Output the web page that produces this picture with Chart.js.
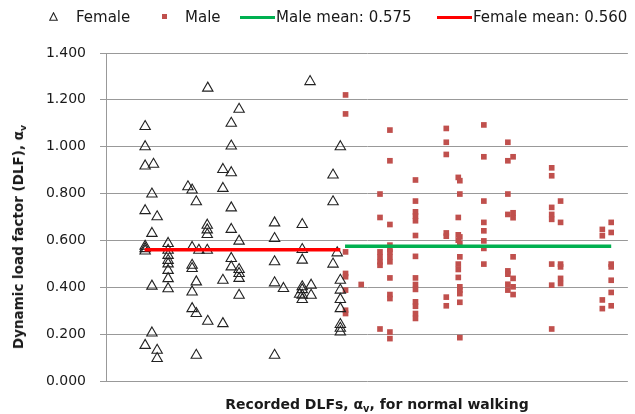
<!DOCTYPE html>
<html>
<head>
<meta charset="utf-8">
<script src="https://cdn.jsdelivr.net/npm/chart.js@4.4.1/dist/chart.umd.min.js"></script>
<style>
  body { margin: 0; background: #fff; }
  #wrap { position: relative; width: 635px; height: 414px; font-family: 'DejaVu Sans', sans-serif; color: #1a1a1a; }
  #chart { position: absolute; left: 0; top: 0; }
  .lg { position: absolute; top: 8px; font-size: 15px; line-height: 18px; white-space: nowrap; }
  .mk { position: absolute; }
  .ttl { position: absolute; font-weight: bold; font-size: 13.5px; white-space: nowrap; }
  .ttl sub { font-size: 70%; vertical-align: -0.3em; line-height: 0; }
  #ytitle { left: 18px; top: 237px; transform: translate(-50%, -50%) rotate(-90deg); }
  #xtitle { left: 377px; top: 396px; font-size: 14px; transform: translateX(-50%); }
</style>
</head>
<body>
<div id="wrap">
  <canvas id="chart" width="635" height="414"></canvas>

  <!-- legend -->
  <svg class="mk" style="left:49px;top:12px" width="9" height="9"><polygon points="4.5,0.8 8.3,8.3 0.7,8.3" fill="none" stroke="#222" stroke-width="1.1"/></svg>
  <span class="lg" style="left:76px" id="lgFemale"></span>
  <div class="mk" style="left:162px;top:14px;width:5px;height:5px;background:#c0504d"></div>
  <span class="lg" style="left:185px" id="lgMale"></span>
  <div class="mk" style="left:240px;top:15.5px;width:35px;height:3px;background:#00b050"></div>
  <span class="lg" style="left:276px" id="lgMaleMean"></span>
  <div class="mk" style="left:437px;top:15.5px;width:35px;height:3px;background:#ff0000"></div>
  <span class="lg" style="left:473px" id="lgFemaleMean"></span>

  <div class="ttl" id="ytitle">Dynamic load factor (DLF), α<sub>v</sub></div>
  <div class="ttl" id="xtitle">Recorded DLFs, α<sub>v</sub>, for normal walking</div>
</div>

<script>
/* ---------- Data ---------- */
// horizontal position of each column of points (0-100, no unit)
const femaleColX = [7.5, 8.8, 9.1, 9.8, 11.9, 15.7, 16.5, 17.3, 17.8, 19.4, 19.5, 22.4,
                    24.0, 25.5, 32.3, 34.0, 37.1, 37.6, 39.1, 39.3, 43.5, 44.3, 44.9];
const femaleColVals = [
  [1.086, 1.000, 0.918, 0.727, 0.575, 0.565, 0.555, 0.152],
  [0.798, 0.630, 0.405, 0.205],
  [0.925],
  [0.701, 0.131, 0.096],
  [0.587, 0.558, 0.536, 0.515, 0.500, 0.472, 0.437, 0.394],
  [0.829],
  [0.815, 0.570, 0.494, 0.480, 0.380, 0.309],
  [0.765, 0.423, 0.288, 0.110],
  [0.558],
  [0.665, 0.645, 0.625, 0.558],
  [1.250, 0.255],
  [0.903, 0.822, 0.430, 0.245],
  [1.100, 1.003, 0.889, 0.739, 0.647, 0.523, 0.487],
  [1.160, 0.597, 0.476, 0.459, 0.438, 0.366],
  [0.675, 0.608, 0.509, 0.419, 0.110],
  [0.395],
  [0.370],
  [0.668, 0.561, 0.516, 0.402, 0.390, 0.366, 0.348],
  [1.278],
  [0.409, 0.366],
  [0.879, 0.765, 0.499],
  [0.547],
  [1.000, 0.430, 0.388, 0.348, 0.309, 0.241, 0.225, 0.209]
];

const maleColX = [45.9, 48.9, 52.5, 54.4, 59.3, 65.2, 67.5, 67.8, 72.4, 77.0, 78.0, 85.4, 87.1, 95.1, 96.8];
const maleColVals = [
  [1.221, 1.140, 0.551, 0.459, 0.445, 0.388, 0.302, 0.288],
  [0.412],
  [0.798, 0.698, 0.551, 0.530, 0.509, 0.494, 0.222],
  [1.071, 0.940, 0.668, 0.580, 0.562, 0.551, 0.530, 0.509, 0.440, 0.369, 0.352, 0.209, 0.181],
  [0.858, 0.768, 0.722, 0.704, 0.684, 0.621, 0.532, 0.440, 0.412, 0.391, 0.338, 0.319, 0.288, 0.267],
  [1.078, 1.019, 0.967, 0.632, 0.618, 0.358, 0.321],
  [0.869, 0.698, 0.624, 0.601, 0.499, 0.476, 0.442],
  [0.855, 0.798, 0.615, 0.587, 0.530, 0.402, 0.388, 0.373, 0.336, 0.185],
  [1.093, 0.957, 0.768, 0.677, 0.641, 0.598, 0.566, 0.499],
  [1.019, 0.940, 0.798, 0.711, 0.470, 0.456, 0.413, 0.388],
  [0.957, 0.718, 0.697, 0.530, 0.438, 0.402, 0.369],
  [0.910, 0.876, 0.741, 0.711, 0.690, 0.499, 0.409, 0.222],
  [0.768, 0.677, 0.499, 0.487, 0.438, 0.416],
  [0.647, 0.620, 0.346, 0.309],
  [0.677, 0.634, 0.499, 0.487, 0.430, 0.378, 0.321]
];

const maleMean = 0.575;
const femaleMean = 0.560;
const femaleMeanSpan = [7.4, 44.9];
const maleMeanSpan = [45.8, 96.8];

const yTicks = [0, 0.2, 0.4, 0.6, 0.8, 1.0, 1.2, 1.4];

/* ---------- Build points ---------- */
const toPoints = (xs, vals) => xs.flatMap((x, i) => vals[i].map(y => ({ x, y })));
const femalePts = toPoints(femaleColX, femaleColVals);
const malePts = toPoints(maleColX, maleColVals);

/* ---------- Legend text ---------- */
document.getElementById('lgFemale').textContent = 'Female';
document.getElementById('lgMale').textContent = 'Male';
document.getElementById('lgMaleMean').textContent = 'Male mean: ' + maleMean.toFixed(3);
document.getElementById('lgFemaleMean').textContent = 'Female mean: ' + femaleMean.toFixed(3);

/* ---------- Chart ---------- */
const FONT = "'DejaVu Sans', sans-serif";

new Chart(document.getElementById('chart'), {
  type: 'scatter',
  data: {
    datasets: [
      {
        label: 'Male mean',
        type: 'line',
        data: maleMeanSpan.map(x => ({ x, y: maleMean })),
        borderColor: '#00b050',
        borderWidth: 3.5,
        pointRadius: 0,
        order: 0
      },
      {
        label: 'Female mean',
        type: 'line',
        data: femaleMeanSpan.map(x => ({ x, y: femaleMean })),
        borderColor: '#ff0000',
        borderWidth: 3.5,
        pointRadius: 0,
        order: 0
      },
      {
        label: 'Female',
        data: femalePts,
        pointStyle: 'triangle',
        pointRadius: 6,
        backgroundColor: 'rgba(0,0,0,0)',
        borderColor: '#222',
        borderWidth: 1.1,
        order: 1
      },
      {
        label: 'Male',
        data: malePts,
        pointStyle: 'rect',
        pointRadius: 4,
        backgroundColor: '#c0504d',
        borderColor: '#c0504d',
        borderWidth: 0,
        order: 1
      }
    ]
  },
  options: {
    responsive: false,
    animation: false,
    layout: { padding: { left: 0, right: 1, top: 53, bottom: 33 } },
    plugins: {
      legend: { display: false },
      tooltip: { enabled: false }
    },
    scales: {
      x: { type: 'linear', min: 0, max: 100, display: false },
      y: {
        min: 0,
        max: 1.4,
        afterBuildTicks: (s) => { s.ticks = yTicks.map(v => ({ value: v })); },
        afterFit: (s) => { s.width = 106; },
        ticks: {
          callback: v => v.toFixed(3),
          font: { family: FONT, size: 14 },
          color: '#1a1a1a',
          padding: 14
        },
        grid: { color: '#999999', tickLength: 6, lineWidth: 1 },
        border: { color: '#999999' }
      }
    }
  }
});
</script>
</body>
</html>
